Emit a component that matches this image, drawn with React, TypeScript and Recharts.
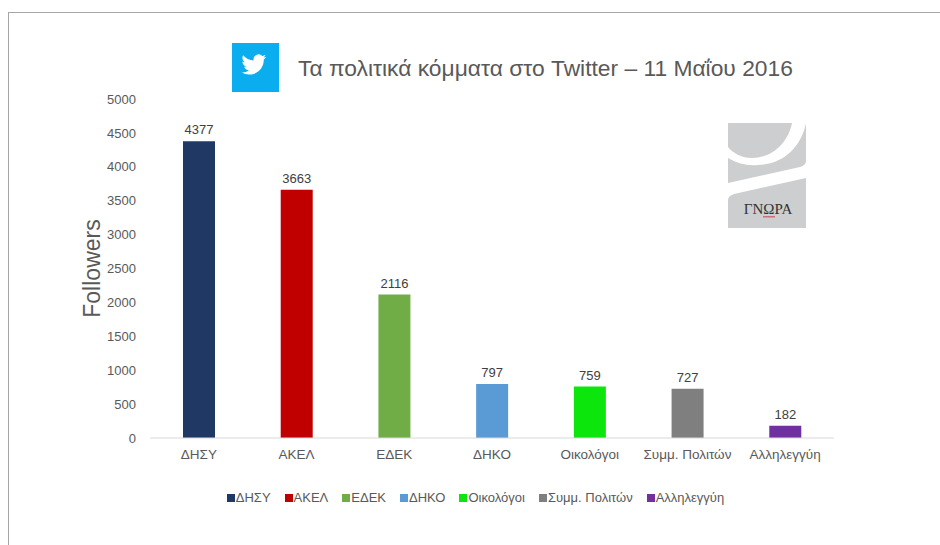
import React from "react";
import { BarChart, Bar, XAxis, YAxis, Cell, LabelList, Legend } from "recharts";

const categories = ["ΔΗΣΥ", "ΑΚΕΛ", "ΕΔΕΚ", "ΔΗΚΟ", "Οικολόγοι", "Συμμ. Πολιτών", "Αλληλεγγύη"];
const followers = [4377, 3663, 2116, 797, 759, 727, 182];
const colors = ["#1f3864", "#c00000", "#70ad47", "#5b9bd5", "#0ce60c", "#7f7f7f", "#7030a0"];
const yTicks = [0, 500, 1000, 1500, 2000, 2500, 3000, 3500, 4000, 4500, 5000];
const titleText = "Τα πολιτικά κόμματα στο Twitter – 11 Μαΐου 2016";

const data = categories.map((name, i) => ({ name, followers: followers[i] }));
const FONT = "'Liberation Sans', Arial, sans-serif";

const LegendContent = () => (
  <div style={{ display: "flex", justifyContent: "center", gap: 14, fontFamily: FONT, fontSize: 13, color: "#595959", lineHeight: "14px" }}>
    {categories.map((c, i) => (
      <span key={c} style={{ display: "flex", alignItems: "center" }}>
        <span style={{ width: 8, height: 8, background: colors[i], marginRight: 1, display: "inline-block" }} />
        {c}
      </span>
    ))}
  </div>
);

export default function App() {
  return (
    <div style={{ position: "absolute", left: 0, top: 0, width: 940, height: 545, background: "#fff", overflow: "hidden" }}>
      <div style={{ position: "absolute", left: 8, top: 12, width: 960, height: 560, border: "1px solid #a6a6a6" }} />
      <BarChart
        width={940}
        height={545}
        data={data}
        margin={{ top: 99, right: 106, bottom: 63, left: 0 }}
        barCategoryGap="33%"
        style={{ position: "absolute", left: 0, top: 0 }}
      >
        <XAxis
          dataKey="name"
          height={30}
          interval={0}
          tickLine={false}
          axisLine={{ stroke: "#d9d9d9" }}
          tickMargin={5}
          tick={{ fontSize: 13.5, fontFamily: FONT, fill: "#595959" }}
        />
        <YAxis
          width={150}
          domain={[0, 5000]}
          ticks={yTicks}
          interval={0}
          tickLine={false}
          axisLine={false}
          tickMargin={8}
          tick={{ fontSize: 13, fontFamily: FONT, fill: "#595959" }}
          label={{ value: "Followers", angle: -90, position: "insideLeft", offset: 0, dx: 92, dy: 0, style: { fontSize: 23, fontFamily: FONT, fill: "#595959", textAnchor: "middle" } }}
        />
        <Bar dataKey="followers" isAnimationActive={false} barSize={32}>
          {categories.map((c, i) => (
            <Cell key={c} fill={colors[i]} />
          ))}
          <LabelList dataKey="followers" position="top" offset={7} style={{ fontSize: 13, fontFamily: FONT, fill: "#404040" }} />
        </Bar>
        <Legend content={LegendContent} wrapperStyle={{ position: "absolute", left: 0, width: 951, top: 491, bottom: "auto" }} />
      </BarChart>

      <div style={{ position: "absolute", left: 232, top: 43, width: 47, height: 49, background: "#0aadee" }}>
        <svg width={47} height={49} viewBox="0 0 24 25">
          <path transform="translate(4.8 4.6) scale(0.53)" fill="#fff" d="M23.95 4.57a10 10 0 0 1-2.82.77 4.96 4.96 0 0 0 2.16-2.72c-.95.55-2 .96-3.13 1.18a4.92 4.92 0 0 0-8.38 4.48C7.69 8.1 4.07 6.13 1.64 3.16a4.82 4.82 0 0 0-.66 2.47c0 1.71.87 3.21 2.19 4.1a4.9 4.9 0 0 1-2.23-.61v.06c0 2.39 1.7 4.38 3.95 4.83a5 5 0 0 1-2.21.08 4.94 4.94 0 0 0 4.6 3.42A9.87 9.87 0 0 1 0 19.54a14 14 0 0 0 7.56 2.21c9.05 0 14-7.5 14-13.98 0-.21 0-.42-.02-.63a9.94 9.94 0 0 0 2.41-2.57z" />
        </svg>
      </div>
      <div style={{ position: "absolute", left: 298, top: 54, fontFamily: FONT, fontSize: 22.8, color: "#595959", whiteSpace: "nowrap", lineHeight: "28px" }}>
        {titleText}
      </div>
      <svg style={{ position: "absolute", left: 728, top: 123 }} width={78} height={105} viewBox="0 0 78 105">
        <path fill="#cdcecf" d="M0 0H64C60 20 44 35 24 35 13 35 5 30 0 24Z" />
        <path fill="#cdcecf" d="M78 0V38Q78 42 72 44L0 60V35C10 41 20 43 30 42 56 41 73 24 78 0Z" />
        <path fill="#cdcecf" d="M0 77Q0 73 6 71L78 55V105H0Z" />
        <text x={40} y={91} textAnchor="middle" fontFamily="'Liberation Serif', serif" fontSize={15} fill="#333">ΓΝΩΡΑ</text>
        <rect x={35} y={93} width={12} height={1.5} fill="#c9707a" />
      </svg>
    </div>
  );
}
